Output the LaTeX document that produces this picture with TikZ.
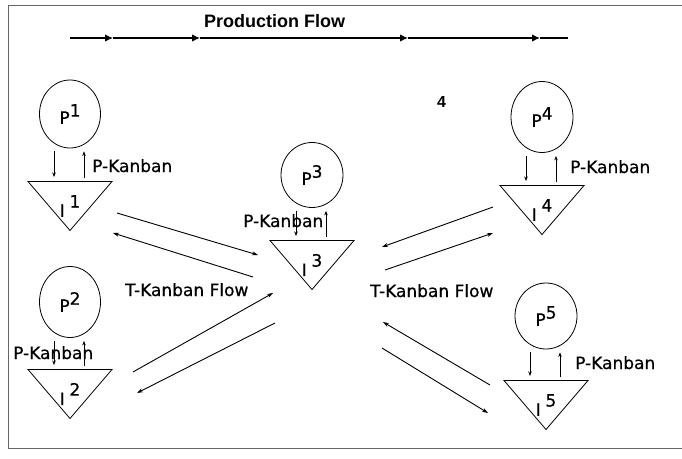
\documentclass[tikz,border=0pt]{standalone}
\usepackage{fontspec}
\setmainfont{DejaVu Sans}
\newfontfamily\headfont{Liberation Sans}
\newfontfamily\labelfont[FakeBold=0.6]{DejaVu Sans}
\usetikzlibrary{arrows.meta,shapes.geometric}

% station labels: raised index beside the letter
\newcommand\plabel[1]{P\raisebox{.42em}{#1}}
\newcommand\ilabel[1]{I\hspace{.28em}\raisebox{.55em}{#1}}

\begin{document}
\begin{tikzpicture}[
  x=1pt,y=-1pt,
  proc/.style={
    ellipse,draw=black,line width=.8pt,minimum width=61pt,
    minimum height=68pt,inner sep=0pt,font=\labelfont\fontsize{17}{17}\selectfont
  },
  binlabel/.style={inner sep=0pt,font=\labelfont\fontsize{17}{17}\selectfont},
  binedge/.style={draw=black,line width=.8pt,line join=miter},
  tag/.style={
    anchor=base west,inner sep=0pt,
    font=\labelfont\fontsize{17}{17}\selectfont
  },
  heading/.style={
    anchor=base west,inner sep=0pt,
    font=\headfont\bfseries\fontsize{18}{18}\selectfont
  },
  prodflow/.style={-{Latex[length=8pt,width=7.5pt]},line width=1.2pt},
  pkanban/.style={-{Stealth[length=4.5pt,width=3.5pt]},line width=.6pt},
  tkanban/.style={-{Stealth[length=6pt,width=4pt]},line width=.9pt},
  frame/.style={draw=black!60,line width=.8pt}
]
  \useasboundingbox (0,0) rectangle (682,458);
  \draw[frame] (682,5) -- (8,5) -- (8,448) -- (682,448);

  % production flow line across the top
  \node[heading] (title) at (204,27) {Production Flow};
  \coordinate (pf0) at (70,38);
  \coordinate (pf1) at (113,38);
  \coordinate (pf2) at (200,38);
  \coordinate (pf3) at (408,38);
  \coordinate (pf4) at (540,38);
  \coordinate (pf5) at (568,38);
  \foreach \a/\b in {pf0/pf1,pf1/pf2,pf2/pf3,pf3/pf4}
    {\draw[prodflow] (\a) -- (\b);}
  \draw[line width=1.2pt] (pf4) -- (pf5);
  \node[heading,font=\headfont\bfseries\fontsize{16}{16}\selectfont]
    (stray) at (437,107) {4};

  % processes and their inventory bins
  \node[proc] (p1) at (70,114) {\plabel{1}};
  \node[proc,minimum height=71pt] (p2) at (70,302) {\plabel{2}};
  \node[proc,minimum width=62pt,minimum height=65pt] (p3) at (312,175) {\plabel{3}};
  \node[proc,minimum width=62pt,minimum height=71pt] (p4) at (542,117) {\plabel{4}};
  \node[proc,minimum width=62pt,minimum height=66pt] (p5) at (546,316) {\plabel{5}};

  \node[binlabel] (i1) at (70,206) {\ilabel{1}};
  \node[binlabel] (i2) at (70,394) {\ilabel{2}};
  \node[binlabel] (i3) at (312,265) {\ilabel{3}};
  \node[binlabel] (i4) at (542,210) {\ilabel{4}};
  \node[binlabel] (i5) at (546,405) {\ilabel{5}};

  \foreach \n in {1,...,5}{
    \draw[binedge] ([shift={(-42,-24.5)}]i\n.center)
      -- ([shift={(42,-24.5)}]i\n.center)
      -- ([shift={(0,24.5)}]i\n.center) -- cycle;
    \draw[pkanban] ([shift={(-16,3)}]p\n.south) -- ([shift={(-16,-29)}]i\n.center);
    \draw[pkanban] ([shift={(14,-28)}]i\n.center) -- ([shift={(14,3)}]p\n.south);
  }

  \node[tag] (pk1) at (92,172) {P-Kanban};
  \node[tag] (pk2) at (13,359) {P-Kanban};
  \node[tag] (pk3) at (243,227) {P-Kanban};
  \node[tag] (pk4) at (570,173) {P-Kanban};
  \node[tag] (pk5) at (575,369) {P-Kanban};

  % transport kanbans to and from the central bin
  \draw[tkanban] ([shift={(47,7)}]i1.center) -- ([shift={(-54,-10)}]i3.center);
  \draw[tkanban] ([shift={(-59,12)}]i3.center) -- ([shift={(43,27)}]i1.center);
  \draw[tkanban] ([shift={(63,-22)}]i2.center) -- ([shift={(-39,28)}]i3.center);
  \draw[tkanban] ([shift={(-37,58)}]i3.center) -- ([shift={(67,-1)}]i2.center);
  \draw[tkanban] ([shift={(-49,-3)}]i4.center) -- ([shift={(70,-18)}]i3.center);
  \draw[tkanban] ([shift={(73,5)}]i3.center) -- ([shift={(-49,23)}]i4.center);
  \draw[tkanban] ([shift={(-56,-20)}]i5.center) -- ([shift={(71,57)}]i3.center);
  \draw[tkanban] ([shift={(70,83)}]i3.center) -- ([shift={(-58,8)}]i5.center);

  \node[tag] (tflowl) at (125,296) {T-Kanban Flow};
  \node[tag] (tflowr) at (370,297) {T-Kanban Flow};
\end{tikzpicture}
\end{document}
